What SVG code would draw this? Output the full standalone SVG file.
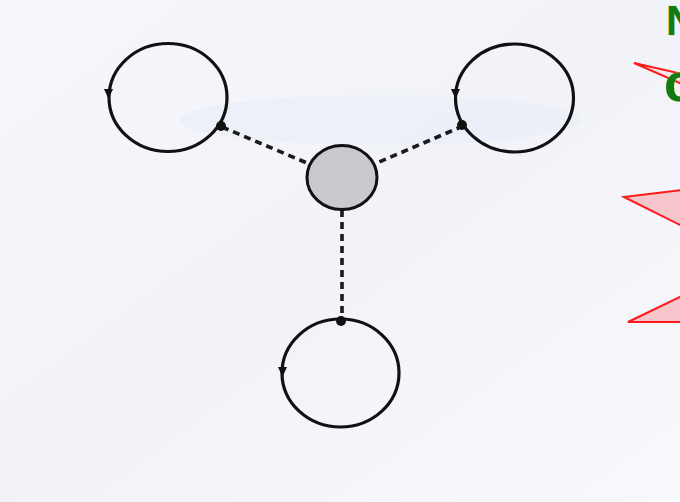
<svg xmlns="http://www.w3.org/2000/svg" width="680" height="502" viewBox="0 0 680 502">
<defs>
<style>
.loop{fill:none;stroke:#111;stroke-width:3.2}
.dash{fill:none;stroke:#1a1a1a;stroke-width:3.6;stroke-dasharray:7 5}
.dot{fill:#111}
.arr{fill:#111}
.call{fill:#f7c6cc;stroke:#ff1a1a;stroke-width:2;stroke-linejoin:miter}
.ttl{font-family:"Liberation Sans",Arial,sans-serif;font-weight:bold;fill:#127a12;stroke:#c8d03a;stroke-width:0.6;paint-order:stroke}
</style>
<linearGradient id="bg" x1="0" y1="0" x2="1" y2="1">
<stop offset="0" stop-color="#f6f7fb"/>
<stop offset="0.5" stop-color="#f1f3f9"/>
<stop offset="1" stop-color="#f8f9fc"/>
</linearGradient>
</defs>
<rect width="680" height="502" fill="url(#bg)"/>
<ellipse cx="380" cy="120" rx="200" ry="25" fill="#e8ebf5" opacity="0.5"/>

<g id="connectors">
<line class="dash" x1="222" y1="127" x2="307" y2="163"/>
<line class="dash" x1="463" y1="126" x2="377" y2="163"/>
<line class="dash" x1="342" y1="210" x2="342" y2="320"/>
</g>

<g id="center">
<ellipse cx="342" cy="177.5" rx="35" ry="32" fill="#c9c9ce" stroke="#111" stroke-width="3"/>
</g>

<g id="loop-top-left">
<ellipse class="loop" cx="168" cy="97.5" rx="59" ry="54"/>
<circle class="dot" cx="221" cy="126" r="5"/>
<path class="arr" d="M104 89 L113 89 L108.5 99 Z"/>
</g>

<g id="loop-top-right">
<ellipse class="loop" cx="514.5" cy="98" rx="59" ry="54"/>
<circle class="dot" cx="462" cy="125" r="5"/>
<path class="arr" d="M451 89 L460 89 L455.5 99 Z"/>
</g>

<g id="loop-bottom">
<ellipse class="loop" cx="340.5" cy="373" rx="58.5" ry="54"/>
<circle class="dot" cx="341" cy="321" r="5"/>
<path class="arr" d="M278 367 L287 367 L282.5 377 Z"/>
</g>

<g id="callouts">
<path class="call" d="M634 63 L682 74 L682 84 Z" fill-opacity="0.3"/>
<path class="call" d="M624 197 L682 190 L682 226 Z"/>
<path class="call" d="M628 322 L682 296 L682 322 Z"/>
</g>

<g id="title">
<text class="ttl" x="666" y="35" font-size="42">N</text>
<text class="ttl" x="664" y="101" font-size="54">c</text>
</g>
</svg>
